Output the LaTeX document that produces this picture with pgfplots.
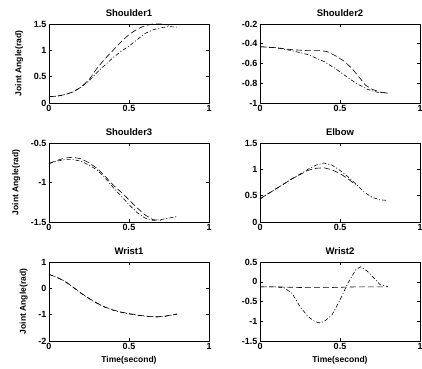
\documentclass[border=0pt]{standalone}
\usepackage{fontspec}
\setmainfont{Liberation Sans}
\usepackage{pgfplots}
\pgfplotsset{compat=1.18}
\pgfplotsset{
  jp/.style={
    scale only axis, width=160pt, height=79pt, anchor=south west,
    xmin=0, xmax=1, xtick={0,0.5,1},
    tick align=inside, major tick length=3pt,
    axis line style={line width=0.9pt},
    every tick/.style={black, line width=0.5pt},
    tick label style={font=\fontsize{9}{10}\selectfont\bfseries},
    /pgf/number format/assume math mode=true,
    /pgf/number format/fixed,
    title style={font=\fontsize{9.5}{10}\selectfont\bfseries, yshift=-2pt},
    label style={font=\fontsize{8.5}{10}\selectfont\bfseries},
    ylabel shift=4pt,
    xticklabel style={yshift=1pt},
    yticklabel style={xshift=1pt},
    clip=false,
  },
  da/.style={black, line width=0.6pt, dash pattern=on 6pt off 3pt},
  dd/.style={black, line width=0.6pt, dash pattern=on 4pt off 2pt on 1pt off 2pt},
}
\begin{document}
\begin{tikzpicture}
\useasboundingbox (0pt,0pt) rectangle (422pt,368pt);
% Row 1
\begin{axis}[jp, at={(49pt,265pt)}, ymin=0, ymax=1.5, ytick={0,0.5,1,1.5}, title={Shoulder1}, ylabel={Joint Angle(rad)}]
\addplot[da] coordinates {(0,0.12)(0.05,0.13)(0.1,0.16)(0.15,0.21)(0.2,0.3)(0.25,0.44)(0.3,0.66)(0.35,0.84)(0.4,1.0)(0.45,1.16)(0.5,1.3)(0.55,1.4)(0.6,1.47)(0.65,1.5)(0.7,1.5)(0.75,1.48)};
\addplot[dd] coordinates {(0,0.12)(0.05,0.13)(0.1,0.16)(0.15,0.21)(0.2,0.3)(0.25,0.42)(0.3,0.58)(0.35,0.72)(0.4,0.86)(0.45,0.98)(0.5,1.08)(0.55,1.2)(0.6,1.32)(0.65,1.39)(0.7,1.43)(0.75,1.45)(0.8,1.44)};
\end{axis}
\begin{axis}[jp, at={(260pt,265pt)}, ymin=-1, ymax=-0.2, ytick={-1,-0.8,-0.6,-0.4,-0.2}, title={Shoulder2}]
\addplot[da] coordinates {(0,-0.43)(0.1,-0.44)(0.2,-0.46)(0.3,-0.47)(0.38,-0.47)(0.42,-0.48)(0.47,-0.52)(0.53,-0.58)(0.58,-0.66)(0.62,-0.74)(0.66,-0.82)(0.7,-0.86)(0.75,-0.89)(0.8,-0.9)};
\addplot[dd] coordinates {(0,-0.43)(0.1,-0.44)(0.2,-0.47)(0.3,-0.51)(0.4,-0.58)(0.47,-0.65)(0.53,-0.72)(0.6,-0.8)(0.67,-0.86)(0.73,-0.89)(0.8,-0.9)};
\end{axis}
% Row 2
\begin{axis}[jp, at={(49pt,146pt)}, ymin=-1.5, ymax=-0.5, ytick={-1.5,-1,-0.5}, title={Shoulder3}, ylabel={Joint Angle(rad)}]
\addplot[da] coordinates {(0,-0.76)(0.05,-0.72)(0.1,-0.69)(0.15,-0.68)(0.2,-0.7)(0.25,-0.75)(0.3,-0.82)(0.35,-0.92)(0.4,-1.03)(0.45,-1.12)(0.5,-1.22)(0.55,-1.32)(0.6,-1.41)(0.65,-1.47)(0.7,-1.48)};
\addplot[dd] coordinates {(0,-0.76)(0.05,-0.73)(0.1,-0.71)(0.15,-0.71)(0.2,-0.73)(0.25,-0.78)(0.3,-0.84)(0.35,-0.94)(0.4,-1.06)(0.45,-1.17)(0.5,-1.28)(0.55,-1.38)(0.6,-1.45)(0.65,-1.48)(0.7,-1.47)(0.75,-1.45)(0.8,-1.43)};
\end{axis}
\begin{axis}[jp, at={(260pt,146pt)}, ymin=0, ymax=1.5, ytick={0,0.5,1,1.5}, title={Elbow}]
\addplot[da] coordinates {(0,0.44)(0.1,0.63)(0.2,0.82)(0.3,0.98)(0.35,1.02)(0.4,1.03)(0.45,0.99)(0.5,0.92)(0.55,0.82)(0.6,0.7)};
\addplot[dd] coordinates {(0,0.44)(0.1,0.63)(0.2,0.82)(0.3,1.0)(0.35,1.08)(0.4,1.12)(0.45,1.08)(0.5,0.98)(0.55,0.86)(0.6,0.72)(0.65,0.57)(0.7,0.47)(0.75,0.42)(0.8,0.41)};
\end{axis}
% Row 3
\begin{axis}[jp, at={(49pt,27pt)}, ymin=-2, ymax=1, ytick={-2,-1,0,1}, title={Wrist1}, ylabel={Joint Angle(rad)}, xlabel={Time(second)}]
\addplot[da] coordinates {(0,0.53)(0.05,0.42)(0.1,0.27)(0.15,0.05)(0.2,-0.18)(0.25,-0.38)(0.3,-0.56)(0.35,-0.71)(0.4,-0.82)(0.45,-0.9)(0.5,-0.96)(0.55,-1.01)(0.6,-1.05)(0.67,-1.08)(0.72,-1.06)(0.8,-0.97)};
\addplot[dd] coordinates {(0,0.53)(0.05,0.41)(0.1,0.26)(0.15,0.04)(0.2,-0.19)(0.25,-0.39)(0.3,-0.57)(0.35,-0.72)(0.4,-0.83)(0.45,-0.91)(0.5,-0.97)(0.55,-1.02)(0.6,-1.06)(0.67,-1.09)(0.72,-1.07)(0.8,-0.98)};
\end{axis}
\begin{axis}[jp, at={(260pt,27pt)}, ymin=-1.5, ymax=0.5, ytick={-1.5,-1,-0.5,0,0.5}, title={Wrist2}, xlabel={Time(second)}]
\addplot[da] coordinates {(0,-0.13)(0.1,-0.13)(0.2,-0.14)(0.3,-0.15)(0.4,-0.15)(0.5,-0.14)(0.6,-0.13)(0.7,-0.13)(0.8,-0.13)};
\addplot[dd] coordinates {(0,-0.13)(0.1,-0.13)(0.15,-0.15)(0.2,-0.29)(0.25,-0.63)(0.3,-0.88)(0.34,-1.0)(0.37,-1.04)(0.4,-1.01)(0.45,-0.84)(0.5,-0.46)(0.55,-0.03)(0.6,0.31)(0.63,0.38)(0.67,0.27)(0.72,0.06)(0.75,-0.07)(0.8,-0.12)};
\end{axis}
\end{tikzpicture}
\end{document}
